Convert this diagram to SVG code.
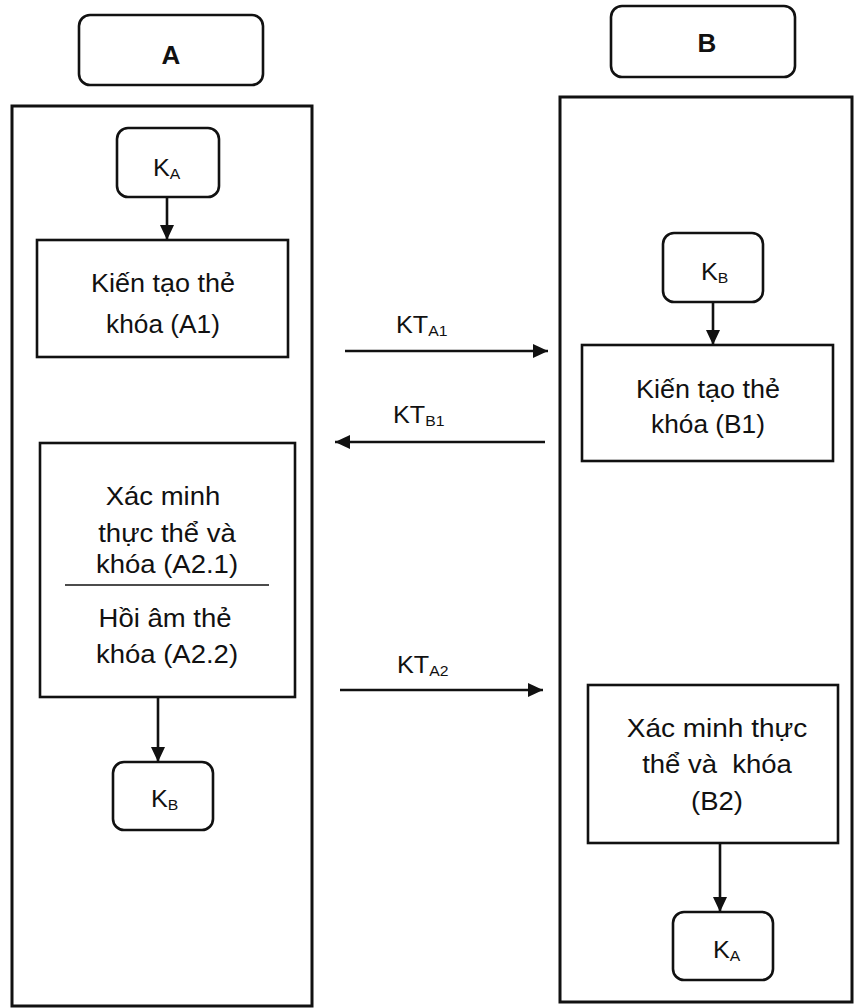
<svg xmlns="http://www.w3.org/2000/svg" width="856" height="1008" viewBox="0 0 856 1008">
<defs>
<style>
.box{fill:#fff;stroke:#111;stroke-width:2.6}
.frame{fill:none;stroke:#111;stroke-width:3}
.t{font-family:"Liberation Sans",Arial,sans-serif;font-size:25px;fill:#111;text-anchor:middle}
.h{font-family:"Liberation Sans",Arial,sans-serif;font-size:26px;font-weight:bold;fill:#111;text-anchor:middle}
.k{font-family:"Liberation Sans",Arial,sans-serif;font-size:24px;fill:#111}
.sub{font-size:15px}
.c{stroke:#111;stroke-width:2.6;fill:none}
</style>
<marker id="ah" markerUnits="userSpaceOnUse" markerWidth="16" markerHeight="14" refX="15" refY="7" orient="auto">
<path d="M0,0 L15,7 L0,14 Z" fill="#111"/>
</marker>
</defs>
<rect width="856" height="1008" fill="#fff"/>

<g id="frameA"><rect class="frame" x="12" y="106" width="300" height="900"/></g>
<g id="frameB"><rect class="frame" x="560" y="97" width="292" height="905"/></g>

<g id="A"><rect class="box" x="79" y="15" width="184" height="70" rx="11"/><text class="h" x="171" y="64">A</text></g>
<g id="B"><rect class="box" x="611" y="6" width="184" height="71" rx="11"/><text class="h" x="707" y="52">B</text></g>

<g id="KA1"><rect class="box" x="117" y="128" width="102" height="69" rx="11"/>
<text class="k" transform="translate(153,176) scale(1.05,1)">K<tspan class="sub" dy="3">A</tspan></text></g>

<g id="A1"><rect class="box" x="37" y="240" width="251" height="117"/>
<text class="t" transform="translate(163,292) scale(1.08,1)">Kiến tạo thẻ</text>
<text class="t" transform="translate(163,333) scale(1.05,1)">khóa (A1)</text></g>

<g id="A2"><rect class="box" x="40" y="443" width="255" height="254"/>
<line x1="65" y1="585" x2="269" y2="585" stroke="#111" stroke-width="1.6"/>
<text class="t" transform="translate(163,505) scale(1.1,1)">Xác minh</text>
<text class="t" transform="translate(167,542) scale(1.1,1)">thực thể và</text>
<text class="t" transform="translate(167,573) scale(1.1,1)">khóa (A2.1)</text>
<text class="t" transform="translate(165,627) scale(1.1,1)">Hồi âm thẻ</text>
<text class="t" transform="translate(167,663) scale(1.1,1)">khóa (A2.2)</text></g>

<g id="KB1"><rect class="box" x="113" y="762" width="100" height="68" rx="11"/>
<text class="k" transform="translate(151,807) scale(1.05,1)">K<tspan class="sub" dy="3">B</tspan></text></g>

<g id="KB2"><rect class="box" x="663" y="233" width="100" height="69" rx="11"/>
<text class="k" transform="translate(701,280) scale(1.05,1)">K<tspan class="sub" dy="3">B</tspan></text></g>

<g id="B1"><rect class="box" x="582" y="345" width="251" height="116"/>
<text class="t" transform="translate(708,398) scale(1.08,1)">Kiến tạo thẻ</text>
<text class="t" transform="translate(708,433) scale(1.05,1)">khóa (B1)</text></g>

<g id="B2"><rect class="box" x="588" y="685" width="250" height="158"/>
<text class="t" transform="translate(717,737) scale(1.12,1)">Xác minh thực</text>
<text class="t" transform="translate(717,773) scale(1.1,1)">thể và&#160; khóa</text>
<text class="t" transform="translate(717,810) scale(1.1,1)">(B2)</text></g>

<g id="KA2"><rect class="box" x="673" y="912" width="100" height="68" rx="11"/>
<text class="k" transform="translate(713,958) scale(1.05,1)">K<tspan class="sub" dy="3">A</tspan></text></g>

<g id="labels">
<text class="k" transform="translate(396,333) scale(1.05,1)">KT<tspan class="sub" dy="3">A1</tspan></text>
<text class="k" transform="translate(393,423) scale(1.05,1)">KT<tspan class="sub" dy="3">B1</tspan></text>
<text class="k" transform="translate(397,673) scale(1.05,1)">KT<tspan class="sub" dy="3">A2</tspan></text>
</g>

<g id="connectors">
<line class="c" x1="167" y1="197" x2="167" y2="240" marker-end="url(#ah)"/>
<line class="c" x1="158" y1="697" x2="158" y2="762" marker-end="url(#ah)"/>
<line class="c" x1="713" y1="302" x2="713" y2="345" marker-end="url(#ah)"/>
<line class="c" x1="720" y1="843" x2="720" y2="912" marker-end="url(#ah)"/>
<line class="c" x1="345" y1="351" x2="548" y2="351" marker-end="url(#ah)"/>
<line class="c" x1="545" y1="442" x2="335" y2="442" marker-end="url(#ah)"/>
<line class="c" x1="340" y1="690" x2="543" y2="690" marker-end="url(#ah)"/>
</g>
</svg>
